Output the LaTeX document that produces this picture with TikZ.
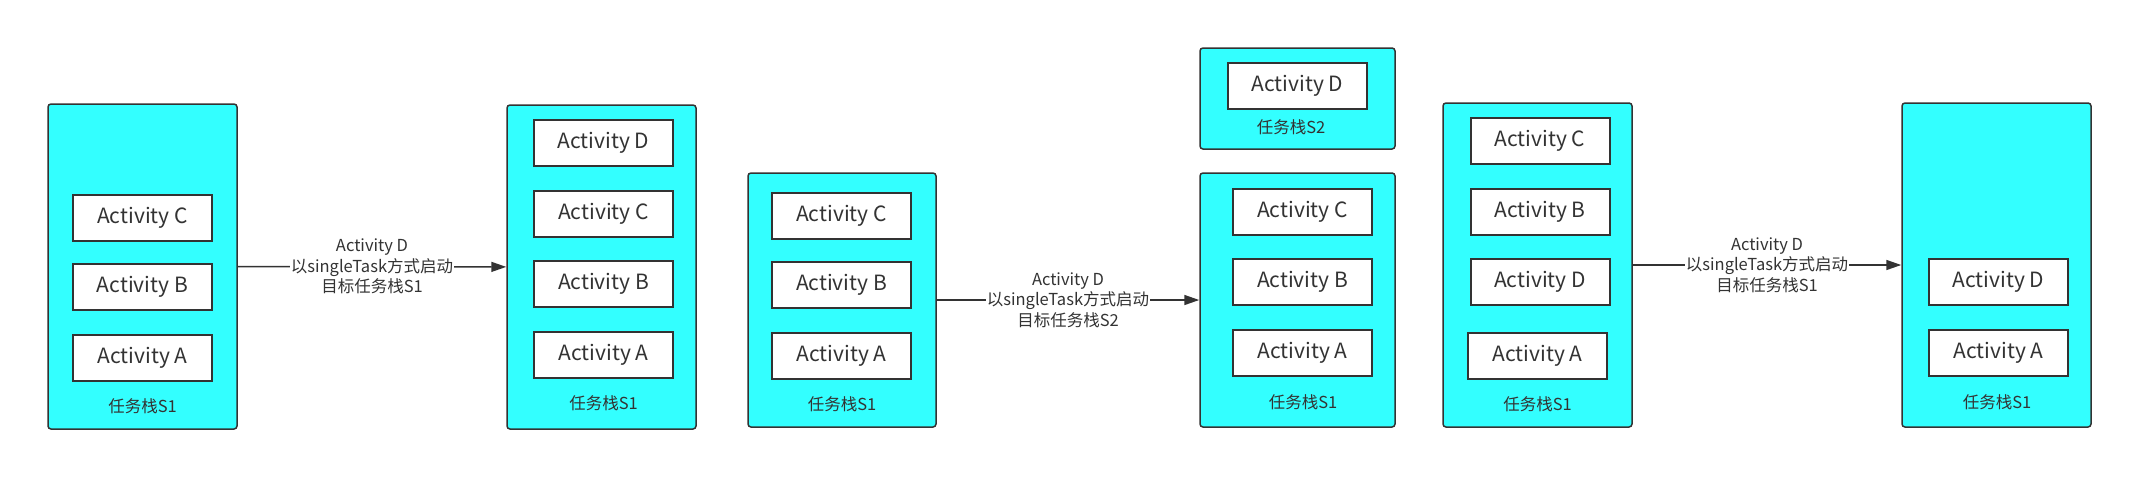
\documentclass[tikz,border=0pt]{standalone}
\usepackage{fontspec}
\setmainfont{Noto Sans CJK SC}
\usetikzlibrary{arrows.meta}
\definecolor{stackcyan}{HTML}{33FFFF}
\definecolor{edgegray}{HTML}{333333}
\begin{document}
\begin{tikzpicture}[x=1pt,y=-1pt,
	stack/.style={draw=edgegray,line width=1.5pt,fill=stackcyan,rounded corners=3pt,minimum width=189pt,inner sep=0pt},
	act/.style={draw=edgegray,line width=2pt,fill=white,minimum width=139pt,minimum height=46pt,inner sep=0pt,text=edgegray,font=\fontsize{21}{24}\selectfont},
	tag/.style={text=edgegray,font=\fontsize{16.5}{18}\selectfont},
	jump/.style={-{Triangle[length=15pt,width=10pt]},draw=edgegray,line width=1.5pt},
	how/.style={midway,fill=white,inner sep=1pt,align=center,text=edgegray,font=\fontsize{16.5}{20.5}\selectfont}]
	\useasboundingbox (0,0) rectangle (2152,491);

	\node[stack,minimum height=325pt] at (142.5,266.5) (s1) {};
	\node[act] at (142.5,217.5) (s1c) {Activity C};
	\node[act] at (142.5,287) (s1b) {Activity B};
	\node[act] at (142.5,357.5) (s1a) {Activity A};
	\node[tag] at (142.5,406) (s1t) {任务栈S1};

	\node[stack,minimum height=324pt] at (601.5,267) (s2) {};
	\node[act] at (603.5,143) (s2d) {Activity D};
	\node[act] at (603.5,214) (s2c) {Activity C};
	\node[act] at (603.5,284) (s2b) {Activity B};
	\node[act] at (603.5,355) (s2a) {Activity A};
	\node[tag] at (603.5,403) (s2t) {任务栈S1};

	\node[stack,minimum width=188pt,minimum height=254pt] at (842,300) (s3) {};
	\node[act] at (841.5,216) (s3c) {Activity C};
	\node[act] at (841.5,285) (s3b) {Activity B};
	\node[act] at (841.5,356) (s3a) {Activity A};
	\node[tag] at (842,404) (s3t) {任务栈S1};

	\node[stack,minimum width=195pt,minimum height=101pt] at (1297.5,98.5) (n2) {};
	\node[act] at (1297.5,86) (n2d) {Activity D};
	\node[tag] at (1291,127) (n2t) {任务栈S2};

	\node[stack,minimum width=195pt,minimum height=254pt] at (1297.5,300) (s4) {};
	\node[act] at (1302.5,212) (s4c) {Activity C};
	\node[act] at (1302.5,282) (s4b) {Activity B};
	\node[act] at (1302.5,353) (s4a) {Activity A};
	\node[tag] at (1303,402) (s4t) {任务栈S1};

	\node[stack,minimum height=324pt] at (1537.5,265) (s5) {};
	\node[act] at (1540,141) (s5c) {Activity C};
	\node[act] at (1540,212) (s5b) {Activity B};
	\node[act] at (1540,282) (s5d) {Activity D};
	\node[act] at (1537.5,356) (s5a) {Activity A};
	\node[tag] at (1537.5,404) (s5t) {任务栈S1};

	\node[stack,minimum height=324pt] at (1996.5,265) (s6) {};
	\node[act] at (1998.5,282) (s6d) {Activity D};
	\node[act] at (1998.5,353) (s6a) {Activity A};
	\node[tag] at (1997,402) (s6t) {任务栈S1};

	\draw[jump] (s1) -- (s2) node[how] {Activity D\\以singleTask方式启动\\目标任务栈S1};
	\draw[jump] (s3) -- (s4) node[how] {Activity D\\以singleTask方式启动\\目标任务栈S2};
	\draw[jump] (s5) -- (s6) node[how] {Activity D\\以singleTask方式启动\\目标任务栈S1};
\end{tikzpicture}
\end{document}
